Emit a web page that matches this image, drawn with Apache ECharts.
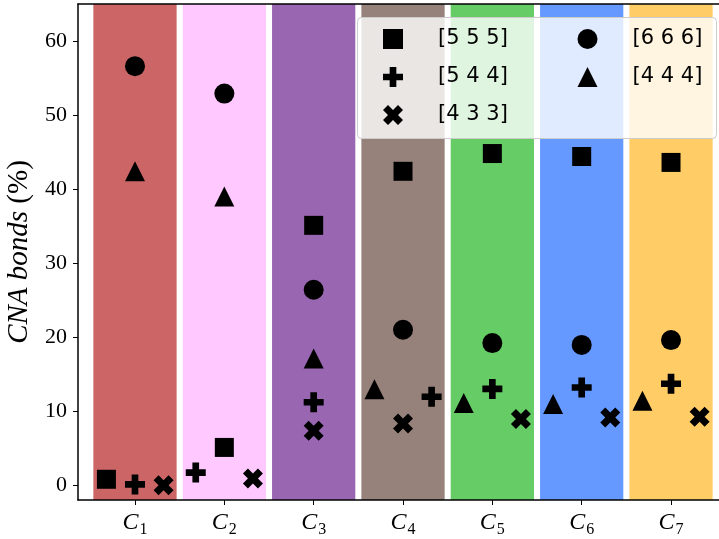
<!DOCTYPE html>
<html><head><meta charset="utf-8">
<script src="https://cdn.jsdelivr.net/npm/echarts@6/dist/echarts.min.js"></script>
<style>html,body{margin:0;padding:0;background:#fff}#c{width:719px;height:539px}</style>
</head><body><div id="c"></div>
<script>
// ---- data ----
const categories = ['1', '2', '3', '4', '5', '6', '7'];   // subscripts of C_i
const bandColors = ['#cc6666', '#ffc8ff', '#9966b2', '#97827b', '#66cc66', '#6699ff', '#ffcc66'];
const yTicks = [0, 10, 20, 30, 40, 50, 60];
const seriesNames = ['[5 5 5]', '[6 6 6]', '[5 4 4]', '[4 4 4]', '[4 3 3]'];
const v555 = [0.8, 5.1, 35.1, 42.4, 44.8, 44.4, 43.6];
const v666 = [56.6, 52.9, 26.4, 21.0, 19.2, 18.95, 19.6];
const v544 = [0.1, 1.7, 11.2, 11.95, 13.0, 13.2, 13.7];
const v444 = [42.4, 39.0, 17.1, 12.95, 11.1, 10.96, 11.4];
const v433 = [0.0, 0.9, 7.35, 8.35, 8.93, 9.15, 9.25];
// horizontal placement of each marker inside its category (-1 left, 0 centre, +1 right)
const side555 = [-1, 0, 0, 0, 0, 0, 0];
const side666 = [0, 0, 0, 0, 0, 0, 0];
const side544 = [0, -1, 0, 1, 0, 0, 0];
const side444 = [0, 0, 0, -1, -1, -1, -1];
const side433 = [1, 1, 0, 0, 1, 1, 1];

// ---- styling ----
const SHIFT = 0.32, HALF = 0.466;
const SQUARE = 'path://M0,0L2,0L2,2L0,2Z';
const TRI = 'path://M1,0L2,2L0,2Z';
const PLUS = 'path://M2,0L4,0L4,2L6,2L6,4L4,4L4,6L2,6L2,4L0,4L0,2L2,2Z';
const XS = 'path://M1,0L2,1L3,0L4,1L3,2L4,3L3,4L2,3L1,4L0,3L1,2L0,1Z';
const catPos = categories.map((_, i) => i + 1);
function pts(vals, sides) { return vals.map((v, i) => [catPos[i] + sides[i] * SHIFT, v]); }
function sc(name, sym, vals, sides, size) {
  return { name: name, type: 'scatter', symbol: sym, symbolSize: size, z: 5,
    itemStyle: { color: '#000', opacity: 1 }, data: pts(vals, sides), emphasis: { disabled: true } };
}
const serif = 'Liberation Serif';
const legendCommon = { orient: 'vertical', itemWidth: 80, itemHeight: 20, itemGap: 17, padding: 0,
  symbolKeepAspect: true, selectedMode: false, z: 200,
  textStyle: { fontFamily: 'DejaVu Sans', fontSize: 21, color: '#000' } };
const XMIN = 0.362, XMAX = 7.537;

const chart = echarts.init(document.getElementById('c'), null, { renderer: 'canvas' });
chart.setOption({
  animation: false,
  backgroundColor: '#fff',
  grid: { left: 78, top: 4, bottom: 39, right: 0, containLabel: false, outerBoundsMode: 'none' },
  xAxis: [{
    type: 'value', min: XMIN, max: XMAX, z: 10,
    axisLine: { show: true, onZero: false, lineStyle: { color: '#000', width: 1.5 } },
    axisTick: { show: true, length: 5, customValues: catPos, lineStyle: { color: '#000' } },
    splitLine: { show: false },
    axisLabel: { customValues: catPos, margin: 8,
      formatter: v => '{c|C}{s|' + categories[Math.round(v) - 1] + '}',
      rich: { c: { fontFamily: serif, fontStyle: 'italic', fontSize: 24, color: '#000' },
              s: { fontFamily: serif, fontSize: 16, color: '#000', padding: [14, 0, 0, 1] } } }
  }, {
    type: 'value', position: 'top', min: XMIN, max: XMAX, z: 10,
    axisLine: { show: true, onZero: false, lineStyle: { color: '#000', width: 1.5 } },
    axisTick: { show: false }, axisLabel: { show: false }, splitLine: { show: false }
  }],
  yAxis: {
    type: 'value', min: -2, max: 65, z: 10,
    axisLine: { show: true, onZero: false, lineStyle: { color: '#000', width: 1.5 } },
    axisTick: { show: true, length: 5, customValues: yTicks, lineStyle: { color: '#000' } },
    axisLabel: { customValues: yTicks, margin: 11, fontFamily: serif, fontSize: 22, color: '#000' },
    splitLine: { show: false },
    name: '{i|CNA bonds} {n|(%)}', nameLocation: 'middle', nameGap: 24,
    nameTextStyle: { fontFamily: serif, fontSize: 29,
      rich: { i: { fontFamily: serif, fontStyle: 'italic', fontSize: 29, color: '#000' },
              n: { fontFamily: serif, fontSize: 29, color: '#000' } } }
  },
  legend: [
    Object.assign({ data: [seriesNames[0], seriesNames[2], seriesNames[4]], left: 383, top: 28.5 }, legendCommon),
    Object.assign({ data: [seriesNames[1], seriesNames[3]], left: 577.5, top: 28.5 }, legendCommon)
  ],
  graphic: [{ type: 'rect', left: 357, top: 17, z: 150,
    shape: { width: 359, height: 121, r: 4 },
    style: { fill: 'rgba(255,255,255,0.8)', stroke: '#cccccc', lineWidth: 1 } }],
  series: [
    { type: 'scatter', data: [], z: 1, silent: true,
      markArea: { silent: true, label: { show: false },
        data: catPos.map((p, i) => [{ xAxis: p - HALF, itemStyle: { color: bandColors[i], opacity: 1 } }, { xAxis: p + HALF }]) } },
    sc(seriesNames[0], SQUARE, v555, side555, 19),
    sc(seriesNames[1], 'circle', v666, side666, 20),
    sc(seriesNames[2], PLUS, v544, side544, 20),
    sc(seriesNames[3], TRI, v444, side444, 20),
    sc(seriesNames[4], XS, v433, side433, 20)
  ]
});
</script></body></html>
